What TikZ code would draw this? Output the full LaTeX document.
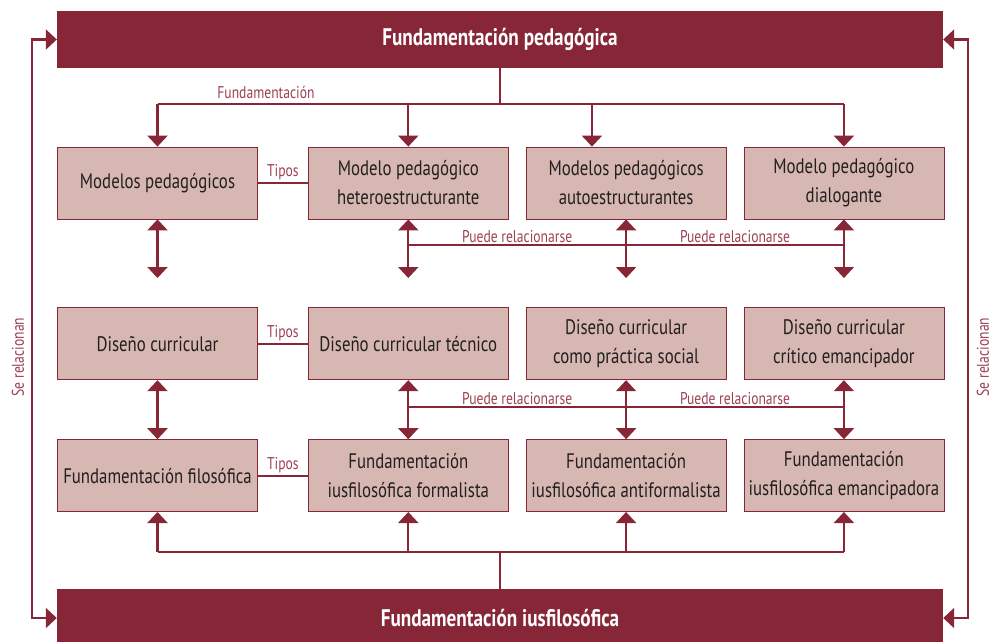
\documentclass[tikz,border=0pt]{standalone}
\usepackage{fontspec}
\setmainfont[FakeStretch=0.80]{PT Sans}
\usepackage{tikz}
\usetikzlibrary{arrows.meta,positioning,calc}
\definecolor{vino}{HTML}{862637}
\definecolor{rosa}{HTML}{D6B7B1}
\definecolor{etiq}{HTML}{9B4152}
\definecolor{texto}{HTML}{231F20}

\begin{document}
\begin{tikzpicture}[x=1pt,y=-1pt,
    barra/.style={fill=vino, text=white, font=\fontsize{24}{26}\selectfont\bfseries, minimum width=886pt, inner sep=0pt},
    caja/.style={draw=vino, line width=0.8pt, fill=rosa, text=texto, minimum width=200pt, minimum height=72pt, inner sep=0pt, align=center, font=\fontsize{21}{29}\selectfont},
    etiqueta/.style={text=etiq, font=\fontsize{17}{19}\selectfont, inner sep=2pt},
    linea/.style={draw=vino, line width=2.2pt},
    flecha/.style={linea, -{Triangle[width=20pt,length=11pt]}},
    dflecha/.style={linea, {Triangle[width=20pt,length=11pt]}-{Triangle[width=20pt,length=11pt]}}]
    \useasboundingbox (0,0) rectangle (992,641);
    \node[barra, minimum height=57pt] (ped) at (500,39.5) {Fundamentación pedagógica};
    \node[barra, minimum height=58pt] (ius) at (500,618) {Fundamentación iusfilosófica};

    \node[caja] (mod) at (157.5,183) {Modelos pedagógicos};
    \node[caja, right=50pt of mod] (hetero) {Modelo pedagógico\\heteroestructurante};
    \node[caja, right=17pt of hetero] (auto) {Modelos pedagógicos\\autoestructurantes};
    \node[caja, right=17pt of auto] (dial) {Modelo pedagógico\\dialogante};

    \node[caja, below=88pt of mod] (dis) {Diseño curricular};
    \node[caja, right=50pt of dis] (tec) {Diseño curricular técnico};
    \node[caja, right=17pt of tec] (soc) {Diseño curricular\\como práctica social};
    \node[caja, right=17pt of soc] (crit) {Diseño curricular\\crítico emancipador};

    \node[caja, below=59pt of dis] (fil) {Fundamentación filosófica};
    \node[caja, right=50pt of fil] (form) {Fundamentación\\iusfilosófica formalista};
    \node[caja, right=17pt of form] (anti) {Fundamentación\\iusfilosófica antiformalista};
    \node[caja, right=17pt of anti] (eman) {Fundamentación\\iusfilosófica emancipadora};

    \coordinate (cruceA) at (500,104);
    \coordinate (cruceB) at (500,552);
    \coordinate (a3) at ($(auto.north west)!0.33!(auto.north east)$);
    \coordinate (fin1) at (0,278);
    \coordinate (rel1) at (0,245);
    \coordinate (rel2) at (0,407);
    \coordinate (izq) at (32,0);
    \coordinate (der) at (968,0);

    % pedagogica
    \draw[linea] (ped) -- (cruceA);
    \draw[linea] (mod.north |- cruceA) -- (dial.north |- cruceA);
    \node[etiqueta] (lfund) at (266,92) {Fundamentación};
    \draw[flecha] (mod.north |- cruceA) -- (mod);
    \draw[flecha] (hetero.north |- cruceA) -- (hetero);
    \draw[flecha] (a3 |- cruceA) -- (a3);
    \draw[flecha] (dial.north |- cruceA) -- (dial);

    % tipos
    \draw[linea] (mod) -- node[etiqueta, above] (tipos1) {Tipos} (hetero);
    \draw[linea] (dis) -- node[etiqueta, above] (tipos2) {Tipos} (tec);
    \draw[linea] (fil) -- node[etiqueta, above] (tipos3) {Tipos} (form);

    % fila 1 a fila 2
    \draw[dflecha] (mod) -- (mod |- fin1);
    \draw[dflecha] (hetero) -- (hetero |- fin1);
    \draw[dflecha] (auto) -- (auto |- fin1);
    \draw[dflecha] (dial) -- (dial |- fin1);
    \draw[linea] (hetero |- rel1) -- (dial |- rel1);
    \path (hetero |- rel1) -- node[etiqueta, above] (lrel1) {Puede relacionarse} (auto |- rel1);
    \path (auto |- rel1) -- node[etiqueta, above] (lrel2) {Puede relacionarse} (dial |- rel1);

    % fila 2 a fila 3
    \draw[dflecha] (dis) -- (fil);
    \draw[dflecha] (tec) -- (form);
    \draw[dflecha] (soc) -- (anti);
    \draw[dflecha] (crit) -- (eman);
    \draw[linea] (tec |- rel2) -- (crit |- rel2);
    \path (tec |- rel2) -- node[etiqueta, above] (lrel3) {Puede relacionarse} (soc |- rel2);
    \path (soc |- rel2) -- node[etiqueta, above] (lrel4) {Puede relacionarse} (crit |- rel2);

    % iusfilosofica
    \draw[linea] (ius) -- (cruceB);
    \draw[linea] (fil.south |- cruceB) -- (eman.south |- cruceB);
    \draw[flecha] (fil.south |- cruceB) -- (fil);
    \draw[flecha] (form.south |- cruceB) -- (form);
    \draw[flecha] (anti.south |- cruceB) -- (anti);
    \draw[flecha] (eman.south |- cruceB) -- (eman);

    % laterales
    \draw[dflecha] (ped.west) -- (ped.west -| izq) -- (ius.west -| izq) -- (ius.west);
    \draw[dflecha] (ped.east) -- (ped.east -| der) -- (ius.east -| der) -- (ius.east);
    \node[etiqueta, rotate=90] (lse1) at (18,357) {Se relacionan};
    \node[etiqueta, rotate=90] (lse2) at (983,357) {Se relacionan};
\end{tikzpicture}
\end{document}
